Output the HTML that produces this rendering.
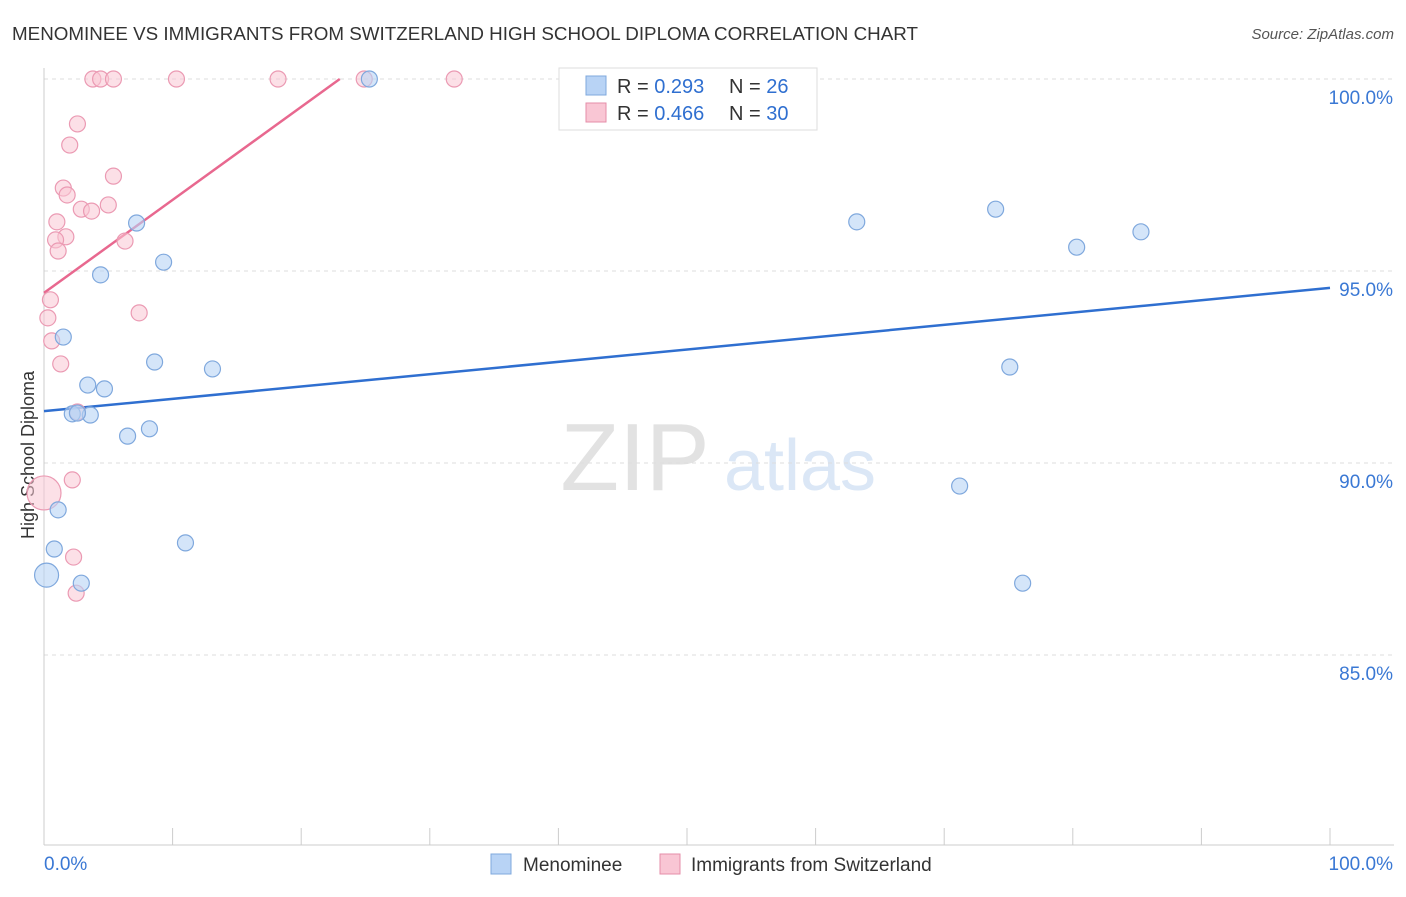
<!DOCTYPE html>
<html><head><meta charset="utf-8"><style>
body{margin:0;background:#fff;font-family:"Liberation Sans",sans-serif;}
svg text{font-family:"Liberation Sans",sans-serif;}
</style></head><body>
<svg id="chart" width="1406" height="892">
<text x="12" y="40" font-size="18" fill="#333" textLength="906" lengthAdjust="spacingAndGlyphs">MENOMINEE VS IMMIGRANTS FROM SWITZERLAND HIGH SCHOOL DIPLOMA CORRELATION CHART</text>
<text x="1394" y="39" font-size="15" fill="#555" text-anchor="end" font-style="italic">Source: ZipAtlas.com</text>
<text x="0" y="0" transform="translate(34,455) rotate(-90)" font-size="18" fill="#333" text-anchor="middle">High School Diploma</text>
<g><text x="635" y="490" font-size="96" fill="#e2e2e2" text-anchor="middle" font-family="Liberation Serif,serif">ZIP</text><text x="800" y="490" font-size="72" fill="#dbe7f6" text-anchor="middle">atlas</text></g>
<g id="grid"></g><g id="axes"></g><g id="lines"></g><g id="points"></g>
<g>
<rect x="559" y="68" width="258" height="62" fill="#fff" stroke="#ddd"/>
<rect x="586" y="76" width="20" height="19" fill="#b8d3f5" stroke="#7fa8dd"/>
<text x="617" y="93" font-size="20" fill="#333">R = <tspan fill="#2f6fd0">0.293</tspan></text>
<text x="729" y="93" font-size="20" fill="#333">N = <tspan fill="#2f6fd0">26</tspan></text>
<rect x="586" y="103" width="20" height="19" fill="#f9c6d4" stroke="#e58ea8"/>
<text x="617" y="120" font-size="20" fill="#333">R = <tspan fill="#2f6fd0">0.466</tspan></text>
<text x="729" y="120" font-size="20" fill="#333">N = <tspan fill="#2f6fd0">30</tspan></text>
</g>
<g>
<rect x="491" y="854" width="20" height="20" fill="#b8d3f5" stroke="#7fa8dd"/>
<text x="523" y="871" font-size="19" fill="#333">Menominee</text>
<rect x="660" y="854" width="20" height="20" fill="#f9c6d4" stroke="#e58ea8"/>
<text x="691" y="871" font-size="19" fill="#333">Immigrants from Switzerland</text>
</g>
</svg>
<script>
const yTicks=[85,90,95,100];
const yTickLabels=["85.0%","90.0%","95.0%","100.0%"];
const blueX=[25.3,7.2,9.3,4.4,1.5,8.6,13.1,3.4,4.7,2.2,3.6,8.2,6.5,1.1,0.8,0.2,2.9,11.0,63.2,74.0,80.3,85.3,75.1,71.2,76.1,2.6];
const blueY=[100,96.25,95.23,94.9,93.28,92.63,92.45,92.03,91.93,91.28,91.25,90.89,90.7,88.78,87.76,87.08,86.87,87.92,96.28,96.61,95.62,96.02,92.5,89.4,86.87,91.3];
const pinkX=[3.8,4.4,5.4,10.3,18.2,24.9,31.9,2.6,2.0,5.4,1.5,1.8,5.0,2.9,3.7,1.0,1.7,0.9,6.3,1.1,0.5,0.3,7.4,0.6,1.3,2.6,2.2,0.0,2.3,2.5];
const pinkY=[100,100,100,100,100,100,100,98.83,98.28,97.47,97.16,96.98,96.72,96.61,96.56,96.28,95.89,95.81,95.78,95.52,94.25,93.78,93.91,93.18,92.58,91.33,89.56,89.22,87.55,86.61];
const blueLine=[91.35,94.56];
const pinkLine=[94.43,100];
const X=v=>44+v*12.86, Y=v=>79+(100-v)*38.4;
const NS="http://www.w3.org/2000/svg";
function mk(t,a,p){const e=document.createElementNS(NS,t);for(const k in a)e.setAttribute(k,a[k]);p.appendChild(e);return e;}
const grid=document.getElementById('grid'),axes=document.getElementById('axes');
yTicks.forEach((t,i)=>{
 const l=mk('line',{x1:44,x2:1394,y1:Y(t),y2:Y(t),stroke:'#ddd','stroke-dasharray':'4,4'},grid);
 
 
 const tx=mk('text',{x:1393,y:Y(t)+25,'font-size':19,fill:'#3a78d4','text-anchor':'end'},axes);
 tx.textContent=yTickLabels[i];
 
 
});
mk('line',{x1:44,x2:44,y1:68,y2:845,stroke:'#ccc'},axes);
mk('line',{x1:44,x2:1394,y1:845,y2:845,stroke:'#ccc'},axes);
for(let i=0;i<=10;i++){const x=44+i*128.6;mk('line',{x1:x,x2:x,y1:828,y2:845,stroke:'#ccc'},axes);}
const x0=mk('text',{x:44,y:870,'font-size':19,fill:'#3a78d4'},axes);x0.textContent='0.0%';


const x1=mk('text',{x:1393,y:870,'font-size':19,fill:'#3a78d4','text-anchor':'end'},axes);x1.textContent='100.0%';


const lines=document.getElementById('lines');
const bl=mk('line',{x1:X(0),y1:Y(blueLine[0]),x2:X(100),y2:Y(blueLine[1]),stroke:'#2f6fd0','stroke-width':2.5},lines);


const pl=mk('line',{x1:X(0),y1:Y(pinkLine[0]),x2:X(23),y2:Y(pinkLine[1]),stroke:'#e8688f','stroke-width':2.5},lines);


const pts=document.getElementById('points');
pinkX.forEach((v,i)=>{const c=mk('circle',{cx:X(v),cy:Y(pinkY[i]),r:(i==27?17:8),fill:'rgba(249,198,212,0.55)',stroke:'#eb9ab3','stroke-width':1.2},pts);
 
 });
blueX.forEach((v,i)=>{const c=mk('circle',{cx:X(v),cy:Y(blueY[i]),r:(i==15?12:8),fill:'rgba(184,211,245,0.6)',stroke:'#7fa8dd','stroke-width':1.2},pts);
 
 });
</script>
</body></html>
